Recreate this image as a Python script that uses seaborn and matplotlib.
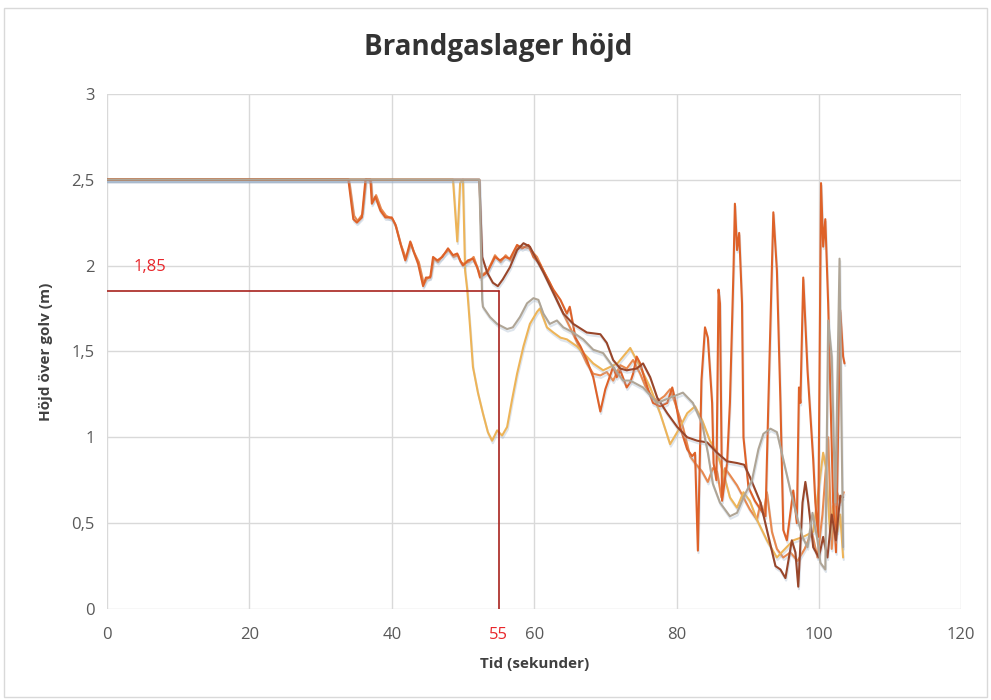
import matplotlib
matplotlib.use("Agg")
import matplotlib.pyplot as plt
import matplotlib.patheffects as pe
from matplotlib.patches import Rectangle
from matplotlib.ticker import FuncFormatter
import pandas as pd
import seaborn as sns

# ---- Measured smoke-layer heights (m) over time (s) for five sensors ----
t_orange = [0, 33.9, 34.6, 35.1, 35.8, 36.3, 37.0, 37.2, 37.7, 38.4, 39.1, 40.0, 40.5, 41.2,
            41.9, 42.6, 43.0, 43.7, 44.4, 44.8, 45.4, 45.8, 46.4, 47.1, 47.9, 48.6, 49.2,
            49.6, 50.0, 50.7, 51.4, 52.0, 52.4, 53.4, 54.5, 55.2, 55.9, 56.6, 57.6, 58.3,
            59.2, 59.9, 60.8, 61.8, 62.7, 63.7, 64.6, 65.0, 65.8, 66.5, 67.4, 68.3, 69.3,
            70.0, 71.1, 71.6, 72.1, 73.0, 73.5, 73.9, 74.4, 74.9, 75.6, 76.0, 76.7, 77.7,
            78.7, 79.4, 79.8, 80.5, 81.5, 82.2, 82.6, 83.0, 83.5, 84.0, 84.4, 85.0, 85.2,
            85.6, 85.9, 86.1, 86.4, 87.1, 87.5, 88.0, 88.2, 88.5, 88.8, 89.2, 89.4, 90.1,
            91.0, 91.8, 92.5, 92.9, 93.6, 94.1, 94.6, 95.0, 95.5, 96.4, 96.9, 97.2, 97.4,
            97.8, 98.4, 99.2, 99.5, 99.9, 100.3, 100.6, 100.9, 101.3, 102.0, 102.4, 103.0,
            103.4, 103.6]
h_orange = [2.5, 2.5, 2.27, 2.25, 2.28, 2.5, 2.5, 2.36, 2.40, 2.32, 2.28, 2.28, 2.24, 2.13,
            2.03, 2.14, 2.09, 2.01, 1.88, 1.93, 1.93, 2.05, 2.03, 2.05, 2.10, 2.06, 2.07,
            2.03, 2.00, 2.03, 2.04, 1.99, 1.93, 1.96, 2.05, 2.03, 2.05, 2.04, 2.12, 2.10,
            2.12, 2.05, 2.01, 1.93, 1.86, 1.80, 1.72, 1.76, 1.58, 1.53, 1.45, 1.35, 1.15,
            1.28, 1.41, 1.35, 1.39, 1.29, 1.32, 1.37, 1.47, 1.43, 1.33, 1.28, 1.20, 1.18,
            1.20, 1.29, 1.22, 1.06, 0.93, 0.89, 0.91, 0.34, 1.33, 1.64, 1.58, 1.20, 0.85,
            0.75, 1.86, 1.78, 0.63, 0.85, 1.20, 1.97, 2.36, 2.09, 2.19, 1.78, 1.00, 0.71,
            0.63, 0.58, 0.54, 1.20, 2.31, 1.97, 1.20, 0.46, 0.40, 0.69, 0.50, 1.29, 1.20,
            1.93, 1.39, 0.87, 0.62, 0.42, 2.48, 2.11, 2.27, 1.78, 0.62, 0.33, 1.74,
            1.47, 1.43]

t_light = [0, 34.0, 34.7, 35.2, 35.9, 36.4, 37.1, 37.3, 37.8, 38.5, 39.2, 40.1, 40.6, 41.3,
           42.0, 42.7, 43.1, 43.8, 44.5, 44.9, 45.5, 45.9, 46.5, 47.2, 48.0, 48.7, 49.3,
           49.7, 50.1, 50.8, 51.5, 52.1, 52.5, 53.5, 54.5, 55.3, 56.0, 56.7, 57.7, 58.4,
           59.3, 60.4, 61.3, 62.2, 63.2, 64.1, 65.5, 66.5, 67.4, 68.3, 69.3, 70.2, 71.1,
           72.1, 73.0, 73.9, 74.9, 75.6, 76.3, 77.3, 78.3, 79.1, 79.8, 80.9, 81.9, 82.6,
           83.6, 84.4, 85.1, 85.7, 86.3, 86.8, 87.5, 88.5, 89.4, 90.3, 91.3, 91.8, 92.2,
           92.7, 93.4, 94.1, 95.0, 96.0, 97.0, 98.0, 99.0, 99.8, 100.5, 101.3, 101.8,
           102.4, 103.0, 103.5]
h_light = [2.5, 2.5, 2.29, 2.26, 2.30, 2.5, 2.49, 2.37, 2.41, 2.33, 2.29, 2.27, 2.23, 2.12,
           2.04, 2.13, 2.08, 2.02, 1.89, 1.92, 1.94, 2.04, 2.02, 2.06, 2.09, 2.05, 2.06,
           2.02, 2.01, 2.02, 2.05, 1.98, 1.94, 1.97, 2.06, 2.02, 2.06, 2.03, 2.11, 2.11,
           2.10, 2.05, 1.97, 1.90, 1.80, 1.72, 1.60, 1.51, 1.43, 1.37, 1.36, 1.38, 1.33,
           1.42, 1.40, 1.45, 1.37, 1.30, 1.25, 1.21, 1.24, 1.28, 1.20, 1.06, 0.89, 0.85,
           0.80, 0.74, 0.82, 0.80, 0.65, 0.82, 0.78, 0.72, 0.65, 0.58, 0.52, 0.62, 0.55,
           0.68, 0.45, 0.35, 0.30, 0.33, 0.28, 0.35, 0.45, 0.30, 0.55, 1.00, 0.35,
           0.70, 0.62, 0.68]

t_yellow = [0, 48.6, 49.2, 49.6, 50.0, 50.3, 50.6, 51.0, 51.4, 52.1, 52.8, 53.5, 54.1,
            54.8, 55.5, 56.2, 56.9, 57.6, 58.5, 59.4, 60.4, 60.8, 61.8, 62.7, 63.7, 64.6,
            66.0, 67.4, 68.3, 69.7, 71.7, 73.5, 74.9, 76.3, 77.7, 79.1, 80.1, 81.5, 82.6,
            83.6, 84.7, 85.7, 86.6, 87.5, 88.5, 89.4, 90.3, 91.3, 92.7, 94.1, 95.0, 96.4,
            97.8, 99.2, 100.6, 101.0, 101.6, 102.0, 102.6, 103.0, 103.4]
h_yellow = [2.5, 2.5, 2.14, 2.48, 2.5, 1.97, 1.86, 1.64, 1.41, 1.26, 1.14, 1.03, 0.98,
            1.04, 1.01, 1.06, 1.22, 1.37, 1.53, 1.66, 1.73, 1.75, 1.64, 1.61, 1.58, 1.57,
            1.53, 1.47, 1.43, 1.39, 1.43, 1.52, 1.41, 1.29, 1.14, 0.96, 1.03, 1.14, 1.18,
            1.10, 0.98, 0.91, 0.79, 0.65, 0.59, 0.68, 0.63, 0.52, 0.40, 0.30, 0.34, 0.40,
            0.42, 0.45, 0.91, 0.82, 0.42, 0.60, 0.45, 0.55, 0.30]

t_brown = [0, 52.3, 52.7, 53.4, 54.2, 54.9, 55.6, 56.6, 57.6, 58.5, 59.4, 60.4, 61.3,
           62.7, 64.1, 65.5, 67.4, 69.3, 70.2, 71.1, 72.1, 73.0, 74.4, 75.3, 76.3, 77.3,
           78.7, 80.1, 81.5, 82.9, 84.3, 85.7, 87.1, 88.5, 89.5, 90.3, 91.8, 92.7, 93.9,
           94.6, 95.3, 96.2, 96.7, 97.1, 97.7, 98.1, 98.5, 99.2, 100.0, 100.6, 101.2,
           101.8, 102.4, 103.0, 103.4]
h_brown = [2.5, 2.5, 2.05, 1.96, 1.90, 1.88, 1.92, 1.99, 2.09, 2.13, 2.11, 2.03, 1.96,
           1.84, 1.72, 1.66, 1.61, 1.60, 1.55, 1.45, 1.40, 1.39, 1.40, 1.43, 1.35, 1.23,
           1.14, 1.06, 1.00, 0.98, 0.97, 0.91, 0.86, 0.85, 0.84, 0.77, 0.62, 0.46, 0.25,
           0.23, 0.18, 0.40, 0.33, 0.13, 0.62, 0.74, 0.62, 0.36, 0.30, 0.42, 0.30,
           0.55, 0.40, 0.66, 0.65]

t_grey = [0, 52.3, 52.7, 52.8, 53.8, 54.8, 56.2, 57.0, 58.0, 59.0, 59.9, 60.6, 61.3, 62.2,
          63.2, 64.1, 65.5, 66.9, 68.3, 69.7, 71.1, 72.5, 73.5, 75.3, 77.3, 79.1, 80.9,
          82.3, 83.6, 84.4, 85.1, 86.1, 87.5, 88.5, 89.4, 90.6, 91.5, 92.2, 93.2, 94.1,
          95.0, 96.0, 96.9, 97.7, 98.4, 99.1, 99.8, 100.2, 100.9, 101.3, 101.8, 102.3,
          102.9, 103.1, 103.4]
h_grey = [2.5, 2.5, 1.80, 1.76, 1.70, 1.66, 1.63, 1.64, 1.70, 1.78, 1.81, 1.80, 1.72, 1.66,
          1.68, 1.64, 1.61, 1.57, 1.51, 1.49, 1.41, 1.33, 1.33, 1.29, 1.20, 1.23, 1.26,
          1.20, 1.08, 0.91, 0.73, 0.62, 0.54, 0.56, 0.65, 0.75, 0.93, 1.02, 1.05, 1.03,
          0.87, 0.69, 0.54, 0.42, 0.36, 0.56, 0.40, 0.27, 0.23, 1.68, 1.47, 0.62,
          2.04, 1.30, 0.36]

series_names = ["ljusorange", "gul", "orange", "brun", "grå"]
series_colors = ["#E8894F", "#EDB458", "#DE6229", "#99462A", "#AFA596"]

limit_time = 55       # s
limit_height = 1.85   # m

x_ticks = [0, 20, 40, 60, 80, 100, 120]
y_ticks = [0, 0.5, 1, 1.5, 2, 2.5, 3]

title_text = "Brandgaslager höjd"
x_label = "Tid (sekunder)"
y_label = "Höjd över golv (m)"

# ---- Long-form table for seaborn ----
frames = []
for name, t, h in zip(series_names,
                      [t_light, t_yellow, t_orange, t_brown, t_grey],
                      [h_light, h_yellow, h_orange, h_brown, h_grey]):
    frames.append(pd.DataFrame({"Tid": t, "Höjd": h, "Serie": name}))
df = pd.concat(frames, ignore_index=True)

sns.set_theme(style="white")
plt.rcParams["font.family"] = ["Open Sans", "DejaVu Sans"]

fig = plt.figure(figsize=(9.91, 7.0), dpi=100)
ax = fig.add_axes([0.108, 0.130, 0.862, 0.736])

# Outer chart frame
fig.patches.append(Rectangle((0.004, 0.004), 0.992, 0.984, transform=fig.transFigure,
                             fill=False, edgecolor="#D9D9D9", linewidth=1.0))

sns.lineplot(data=df, x="Tid", y="Höjd", hue="Serie", hue_order=series_names,
             palette=dict(zip(series_names, series_colors)), sort=False,
             estimator=None, legend=False, linewidth=1.5, ax=ax)

shadow = [pe.SimpleLineShadow(offset=(0.5, -1.8), shadow_color="#9FB2C8", alpha=0.35),
          pe.Normal()]
for line in ax.get_lines():
    line.set_path_effects(shadow)
    line.set_solid_joinstyle("round")

# Limit markers
limit_color = "#A8231E"
ax.plot([0, limit_time], [limit_height, limit_height], color=limit_color, lw=1.2,
        zorder=5)
ax.plot([limit_time, limit_time], [0, limit_height], color=limit_color, lw=1.2, zorder=5)
ax.text(6.0, 1.99, f"{limit_height:.2f}".replace(".", ","), color="#E8262B",
        fontsize=12, ha="center", va="center")

ax.set_xlim(0, 120)
ax.set_ylim(0, 3)
ax.set_xticks(x_ticks)
ax.set_yticks(y_ticks)
ax.yaxis.set_major_formatter(FuncFormatter(lambda v, p: f"{v:g}".replace(".", ",")))
ax.grid(True, color="#D9D9D9", linewidth=1.0)
ax.set_axisbelow(True)
for s in ax.spines.values():
    s.set_visible(False)
ax.tick_params(axis="x", length=0, labelsize=12, labelcolor="#595959", pad=13)
ax.tick_params(axis="y", length=0, labelsize=12, labelcolor="#595959", pad=9)

# Extra red tick label for the limit time, on the same baseline as the x tick labels
fig.canvas.draw()
tick_label_y = ax.get_xticklabels()[0].get_position()[1]
ax.annotate(str(limit_time), xy=(limit_time, 0), xycoords=("data", "axes fraction"),
            xytext=(0, -13), textcoords="offset points", color="#E8262B", fontsize=12,
            ha="center", va="top")

ax.set_xlabel(x_label, fontsize=11, fontweight="bold", color="#404040", labelpad=10)
ax.set_ylabel(y_label, fontsize=11, fontweight="bold", color="#404040", labelpad=13)
fig.text(0.503, 0.932, title_text, fontsize=20, fontweight="bold", color="#333333",
         ha="center", va="center")

fig.savefig("out.png", dpi=100, facecolor="white")
